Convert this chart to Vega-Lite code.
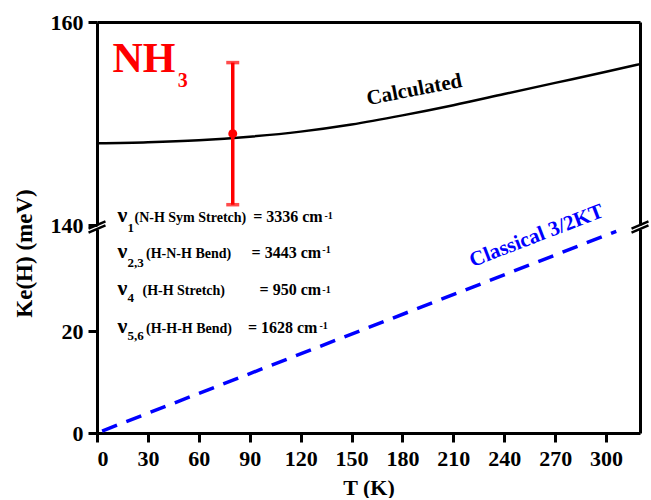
{
  "$schema": "https://vega.github.io/schema/vega-lite/v6.json",
  "autosize": {"type": "pad"},
  "padding": {"left": 13, "top": 11, "right": 0, "bottom": 0},
  "background": "white",
  "bounds": "flush",
  "spacing": 4,
  "datasets": {
    "calc": [
      {"T": 0, "v": 148.05}, {"T": 30, "v": 148.15}, {"T": 60, "v": 148.35},
      {"T": 90, "v": 148.7}, {"T": 120, "v": 149.2}, {"T": 150, "v": 149.9},
      {"T": 180, "v": 150.8}, {"T": 210, "v": 151.8}, {"T": 240, "v": 152.9},
      {"T": 270, "v": 154.0}, {"T": 300, "v": 155.1}, {"T": 320, "v": 155.85}
    ],
    "err": [{"T": 80, "v": 149.0, "lo": 142.0, "hi": 156.0}],
    "classical": [{"T": 3, "v": 0.39}, {"T": 306, "v": 39.55}],
    "breaksTop": [
      {"T": -5, "v": 139.65, "T2": 5, "v2": 140.35},
      {"T": 315, "v": 139.65, "T2": 325, "v2": 140.35}
    ],
    "breaksBottom": [
      {"T": -5, "v": 39.3, "T2": 5, "v2": 40.7},
      {"T": 315, "v": 39.3, "T2": 325, "v2": 40.7}
    ],
    "labels": [
      {"panel": "top", "part": "nu", "T": 12.1, "v": 140.3, "text": "ν"},
      {"panel": "top", "part": "sub", "T": 18.0, "v": 139.3, "text": "1"},
      {"panel": "top", "part": "desc", "T": 22.1, "v": 140.3, "text": "(N-H Sym Stretch)"},
      {"panel": "top", "part": "val", "T": 133.0, "v": 140.3, "text": "= 3336 cm"},
      {"panel": "top", "part": "sup", "T": 134.0, "v": 140.6, "text": "-1"},
      {"panel": "bottom", "part": "nu", "T": 12.1, "v": 34.3, "text": "ν"},
      {"panel": "bottom", "part": "sub", "T": 18.0, "v": 32.5, "text": "2,3"},
      {"panel": "bottom", "part": "desc", "T": 28.9, "v": 34.3, "text": "(H-N-H Bend)"},
      {"panel": "bottom", "part": "val", "T": 132.1, "v": 34.3, "text": "= 3443  cm"},
      {"panel": "bottom", "part": "sup", "T": 132.8, "v": 35.3, "text": "-1"},
      {"panel": "bottom", "part": "nu", "T": 12.1, "v": 27.06, "text": "ν"},
      {"panel": "bottom", "part": "sub", "T": 18.0, "v": 25.7, "text": "4"},
      {"panel": "bottom", "part": "desc", "T": 26.8, "v": 27.06, "text": "(H-H Stretch)"},
      {"panel": "bottom", "part": "val", "T": 132.1, "v": 27.06, "text": "=   950  cm"},
      {"panel": "bottom", "part": "sup", "T": 132.8, "v": 27.45, "text": "-1"},
      {"panel": "bottom", "part": "nu", "T": 12.1, "v": 19.55, "text": "ν"},
      {"panel": "bottom", "part": "sub", "T": 18.0, "v": 18.2, "text": "5,6"},
      {"panel": "bottom", "part": "desc", "T": 28.9, "v": 19.55, "text": "(H-H-H Bend)"},
      {"panel": "bottom", "part": "val", "T": 129.9, "v": 19.55, "text": "= 1628 cm"},
      {"panel": "bottom", "part": "sup", "T": 131.1, "v": 20.4, "text": "-1"}
    ],
    "titlesTop": [
      {"kind": "nh", "T": 9.1, "v": 155.07, "text": "NH"},
      {"kind": "nh3", "T": 47.6, "v": 153.6, "text": "3"},
      {"kind": "calc", "T": 187, "v": 153.3, "text": "Calculated"}
    ],
    "titlesBottom": [
      {"kind": "classical", "T": 259, "v": 38.6, "text": "Classical 3/2KT"}
    ]
  },
  "vconcat": [
    {
      "width": 543,
      "height": 203,
      "resolve": {"axis": {"y": "independent", "x": "independent"}},
      "layer": [
        {
          "data": {"name": "calc"},
          "mark": {"type": "line", "color": "black", "strokeWidth": 2.5, "interpolate": "monotone"},
          "encoding": {
            "x": {"field": "T", "type": "quantitative", "scale": {"domain": [0, 320], "nice": false, "zero": false},
                  "axis": {"orient": "top", "labels": false, "ticks": false, "title": null}},
            "y": {"field": "v", "type": "quantitative", "scale": {"domain": [140, 160], "nice": false, "zero": false},
                  "axis": {"orient": "left", "values": [140, 160], "title": "Ke(H) (meV)", "titleFontSize": 23, "titleY": 231, "titlePadding": 14, "labelPadding": 5}}
          }
        },
        {
          "data": {"name": "err"},
          "mark": {"type": "rule", "color": "#ff0000", "strokeWidth": 3.5},
          "encoding": {
            "x": {"field": "T", "type": "quantitative", "axis": null},
            "y": {"field": "lo", "type": "quantitative",
                  "axis": {"orient": "right", "labels": false, "ticks": false, "title": null}},
            "y2": {"field": "hi"}
          }
        },
        {
          "data": {"name": "err"},
          "mark": {"type": "tick", "color": "#ff0000", "orient": "horizontal", "size": 13, "thickness": 3.5},
          "encoding": {
            "x": {"field": "T", "type": "quantitative", "axis": null},
            "y": {"field": "lo", "type": "quantitative", "axis": null}
          }
        },
        {
          "data": {"name": "err"},
          "mark": {"type": "tick", "color": "#ff0000", "orient": "horizontal", "size": 13, "thickness": 3.5},
          "encoding": {
            "x": {"field": "T", "type": "quantitative", "axis": null},
            "y": {"field": "hi", "type": "quantitative", "axis": null}
          }
        },
        {
          "data": {"name": "err"},
          "mark": {"type": "point", "filled": true, "color": "#ff0000", "size": 80, "opacity": 1},
          "encoding": {
            "x": {"field": "T", "type": "quantitative", "axis": null},
            "y": {"field": "v", "type": "quantitative", "axis": null}
          }
        },
        {
          "data": {"name": "breaksTop"},
          "mark": {"type": "rule", "color": "black", "strokeWidth": 2.5},
          "encoding": {
            "x": {"field": "T", "type": "quantitative", "axis": null},
            "y": {"field": "v", "type": "quantitative", "axis": null},
            "x2": {"field": "T2"},
            "y2": {"field": "v2"}
          }
        },
        {
          "data": {"name": "titlesTop"},
          "transform": [{"filter": "datum.kind === 'nh'"}],
          "mark": {"type": "text", "color": "#ff0000", "font": "Liberation Serif", "fontWeight": "bold", "fontSize": 42, "align": "left", "baseline": "alphabetic"},
          "encoding": {
            "x": {"field": "T", "type": "quantitative", "axis": null},
            "y": {"field": "v", "type": "quantitative", "axis": null},
            "text": {"field": "text"}
          }
        },
        {
          "data": {"name": "titlesTop"},
          "transform": [{"filter": "datum.kind === 'nh3'"}],
          "mark": {"type": "text", "color": "#ff0000", "font": "Liberation Serif", "fontWeight": "bold", "fontSize": 20, "align": "left", "baseline": "alphabetic"},
          "encoding": {
            "x": {"field": "T", "type": "quantitative", "axis": null},
            "y": {"field": "v", "type": "quantitative", "axis": null},
            "text": {"field": "text"}
          }
        },
        {
          "data": {"name": "titlesTop"},
          "transform": [{"filter": "datum.kind === 'calc'"}],
          "mark": {"type": "text", "color": "black", "font": "Liberation Serif", "fontWeight": "bold", "fontSize": 21, "align": "center", "baseline": "middle", "angle": 349},
          "encoding": {
            "x": {"field": "T", "type": "quantitative", "axis": null},
            "y": {"field": "v", "type": "quantitative", "axis": null},
            "text": {"field": "text"}
          }
        },
        {
          "data": {"name": "labels"},
          "transform": [{"filter": "datum.panel === 'top' && datum.part === 'nu'"}],
          "mark": {"type": "text", "color": "black", "font": "Liberation Serif", "fontWeight": "bold", "fontSize": 22, "align": "left", "baseline": "alphabetic"},
          "encoding": {
            "x": {"field": "T", "type": "quantitative", "axis": null},
            "y": {"field": "v", "type": "quantitative", "axis": null},
            "text": {"field": "text"}
          }
        },
        {
          "data": {"name": "labels"},
          "transform": [{"filter": "datum.panel === 'top' && datum.part === 'sub'"}],
          "mark": {"type": "text", "color": "black", "font": "Liberation Serif", "fontWeight": "bold", "fontSize": 13, "align": "left", "baseline": "alphabetic"},
          "encoding": {
            "x": {"field": "T", "type": "quantitative", "axis": null},
            "y": {"field": "v", "type": "quantitative", "axis": null},
            "text": {"field": "text"}
          }
        },
        {
          "data": {"name": "labels"},
          "transform": [{"filter": "datum.panel === 'top' && datum.part === 'desc'"}],
          "mark": {"type": "text", "color": "black", "font": "Liberation Serif", "fontWeight": "bold", "fontSize": 14, "align": "left", "baseline": "alphabetic"},
          "encoding": {
            "x": {"field": "T", "type": "quantitative", "axis": null},
            "y": {"field": "v", "type": "quantitative", "axis": null},
            "text": {"field": "text"}
          }
        },
        {
          "data": {"name": "labels"},
          "transform": [{"filter": "datum.panel === 'top' && datum.part === 'val'"}],
          "mark": {"type": "text", "color": "black", "font": "Liberation Serif", "fontWeight": "bold", "fontSize": 16, "align": "right", "baseline": "alphabetic"},
          "encoding": {
            "x": {"field": "T", "type": "quantitative", "axis": null},
            "y": {"field": "v", "type": "quantitative", "axis": null},
            "text": {"field": "text"}
          }
        },
        {
          "data": {"name": "labels"},
          "transform": [{"filter": "datum.panel === 'top' && datum.part === 'sup'"}],
          "mark": {"type": "text", "color": "black", "font": "Liberation Serif", "fontWeight": "bold", "fontSize": 10, "align": "left", "baseline": "alphabetic"},
          "encoding": {
            "x": {"field": "T", "type": "quantitative", "axis": null},
            "y": {"field": "v", "type": "quantitative", "axis": null},
            "text": {"field": "text"}
          }
        }
      ]
    },
    {
      "width": 543,
      "height": 204,
      "resolve": {"axis": {"y": "independent"}},
      "layer": [
        {
          "data": {"name": "classical"},
          "mark": {"type": "line", "color": "#0000ff", "strokeWidth": 3.5, "strokeDash": [16, 10]},
          "encoding": {
            "x": {"field": "T", "type": "quantitative", "scale": {"domain": [0, 320], "nice": false, "zero": false},
                  "axis": {"orient": "bottom", "values": [0, 30, 60, 90, 120, 150, 180, 210, 240, 270, 300], "title": "T (K)", "labelPadding": 6, "titlePadding": 8}},
            "y": {"field": "v", "type": "quantitative", "scale": {"domain": [0, 40], "nice": false, "zero": false},
                  "axis": {"orient": "left", "values": [0, 20], "title": null, "labelPadding": 5}}
          }
        },
        {
          "data": {"name": "breaksBottom"},
          "mark": {"type": "rule", "color": "black", "strokeWidth": 2.5},
          "encoding": {
            "x": {"field": "T", "type": "quantitative"},
            "y": {"field": "v", "type": "quantitative",
                  "axis": {"orient": "right", "labels": false, "ticks": false, "title": null}},
            "x2": {"field": "T2"},
            "y2": {"field": "v2"}
          }
        },
        {
          "data": {"name": "titlesBottom"},
          "mark": {"type": "text", "color": "#0000ff", "font": "Liberation Serif", "fontWeight": "bold", "fontSize": 21, "align": "center", "baseline": "middle", "angle": 339},
          "encoding": {
            "x": {"field": "T", "type": "quantitative"},
            "y": {"field": "v", "type": "quantitative", "axis": null},
            "text": {"field": "text"}
          }
        },
        {
          "data": {"name": "labels"},
          "transform": [{"filter": "datum.panel === 'bottom' && datum.part === 'nu'"}],
          "mark": {"type": "text", "color": "black", "font": "Liberation Serif", "fontWeight": "bold", "fontSize": 22, "align": "left", "baseline": "alphabetic"},
          "encoding": {
            "x": {"field": "T", "type": "quantitative"},
            "y": {"field": "v", "type": "quantitative", "axis": null},
            "text": {"field": "text"}
          }
        },
        {
          "data": {"name": "labels"},
          "transform": [{"filter": "datum.panel === 'bottom' && datum.part === 'sub'"}],
          "mark": {"type": "text", "color": "black", "font": "Liberation Serif", "fontWeight": "bold", "fontSize": 13, "align": "left", "baseline": "alphabetic"},
          "encoding": {
            "x": {"field": "T", "type": "quantitative"},
            "y": {"field": "v", "type": "quantitative", "axis": null},
            "text": {"field": "text"}
          }
        },
        {
          "data": {"name": "labels"},
          "transform": [{"filter": "datum.panel === 'bottom' && datum.part === 'desc'"}],
          "mark": {"type": "text", "color": "black", "font": "Liberation Serif", "fontWeight": "bold", "fontSize": 14, "align": "left", "baseline": "alphabetic"},
          "encoding": {
            "x": {"field": "T", "type": "quantitative"},
            "y": {"field": "v", "type": "quantitative", "axis": null},
            "text": {"field": "text"}
          }
        },
        {
          "data": {"name": "labels"},
          "transform": [{"filter": "datum.panel === 'bottom' && datum.part === 'val'"}],
          "mark": {"type": "text", "color": "black", "font": "Liberation Serif", "fontWeight": "bold", "fontSize": 16, "align": "right", "baseline": "alphabetic"},
          "encoding": {
            "x": {"field": "T", "type": "quantitative"},
            "y": {"field": "v", "type": "quantitative", "axis": null},
            "text": {"field": "text"}
          }
        },
        {
          "data": {"name": "labels"},
          "transform": [{"filter": "datum.panel === 'bottom' && datum.part === 'sup'"}],
          "mark": {"type": "text", "color": "black", "font": "Liberation Serif", "fontWeight": "bold", "fontSize": 10, "align": "left", "baseline": "alphabetic"},
          "encoding": {
            "x": {"field": "T", "type": "quantitative"},
            "y": {"field": "v", "type": "quantitative", "axis": null},
            "text": {"field": "text"}
          }
        }
      ]
    }
  ],
  "config": {
    "font": "Liberation Serif",
    "view": {"stroke": null},
    "axis": {
      "labelFont": "Liberation Serif", "labelFontWeight": "bold", "labelFontSize": 22, "labelColor": "black",
      "titleFont": "Liberation Serif", "titleFontWeight": "bold", "titleFontSize": 22, "titleColor": "black",
      "domainColor": "black", "domainWidth": 3, "tickColor": "black", "tickWidth": 3, "tickSize": 9, "grid": false
    }
  }
}
